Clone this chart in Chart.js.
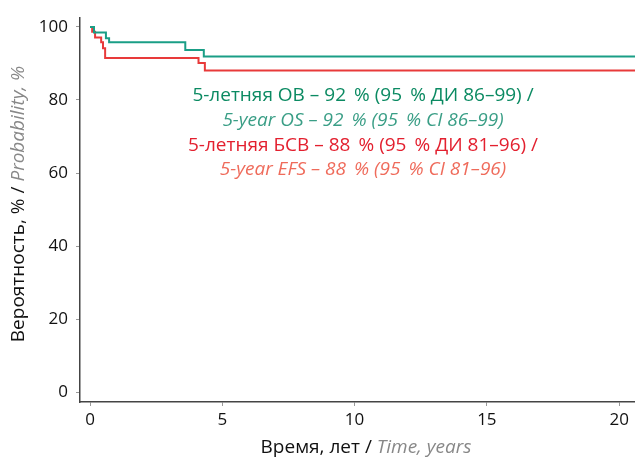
<!DOCTYPE html>
<html>
<head>
<meta charset="utf-8">
<script src="https://cdn.jsdelivr.net/npm/chart.js@4"></script>
<style>
  html,body{margin:0;padding:0;background:#fff;}
  #wrap{width:635px;height:460px;}
</style>
</head>
<body>
<div id="wrap"><canvas id="km"></canvas></div>
<script>
// время (годы) и вероятность (%) — ступени Каплана–Мейера
const osTime  = [0, 0.15, 0.6, 0.72, 3.6, 4.3, 20.6];
const osProb  = [100, 98.5, 96.9, 95.8, 93.7, 91.9, 91.9];
const efsTime = [0, 0.08, 0.19, 0.42, 0.49, 0.57, 4.1, 4.34, 20.6];
const efsProb = [100, 98.7, 97.1, 95.8, 94.2, 91.5, 90.1, 88.1, 88.1];
const xTicks = [0, 5, 10, 15, 20];
const yTicks = [0, 20, 40, 60, 80, 100];

const notes = [
  ['5-летняя ОВ – 92 \u2009% (95 \u2009% ДИ 86–99) /', '#0b8a62', ''],
  ['5-year OS – 92 \u2009% (95 \u2009% CI 86–99)', '#3a9e86', 'italic '],
  ['5-летняя БСВ – 88 \u2009% (95 \u2009% ДИ 81–96) /', '#e3202f', ''],
  ['5-year EFS – 88 \u2009% (95 \u2009% CI 81–96)', '#ef6b5b', 'italic ']
];

const FONT = '"Open Sans", "Noto Sans", sans-serif';

const textPlugin = {
  id: 'texts',
  afterDraw(chart) {
    const ctx = chart.ctx;
    ctx.save();
    ctx.textBaseline = 'middle';
    ctx.textAlign = 'center';
    notes.forEach((n, i) => {
      ctx.font = n[2] + '19px ' + FONT;
      ctx.fillStyle = n[1];
      ctx.fillText(n[0], 363, 96 + i * 24.6);
    });
    // x title
    const xa = '19px ' + FONT, xb = 'italic 19px ' + FONT;
    const p1 = 'Время, лет / ', p2 = 'Time, years';
    ctx.font = xa; const w1 = ctx.measureText(p1).width;
    ctx.font = xb; const w2 = ctx.measureText(p2).width;
    let x0 = 366 - (w1 + w2) / 2;
    ctx.textAlign = 'left';
    ctx.font = xa; ctx.fillStyle = '#111'; ctx.fillText(p1, x0, 448);
    ctx.font = xb; ctx.fillStyle = '#888'; ctx.fillText(p2, x0 + w1, 448);
    // y title
    const q1 = 'Вероятность, % / ', q2 = 'Probability, %';
    ctx.font = xa; const v1 = ctx.measureText(q1).width;
    ctx.font = xb; const v2 = ctx.measureText(q2).width;
    ctx.translate(19, 204);
    ctx.rotate(-Math.PI / 2);
    let y0 = -(v1 + v2) / 2;
    ctx.font = xa; ctx.fillStyle = '#111'; ctx.fillText(q1, y0, 0);
    ctx.font = xb; ctx.fillStyle = '#888'; ctx.fillText(q2, y0 + v1, 0);
    ctx.restore();
  }
};

new Chart(document.getElementById('km').getContext('2d'), {
  type: 'line',
  data: {
    datasets: [
      { label: 'OS', data: osTime.map((t, i) => ({x: t, y: osProb[i]})), borderColor: '#1a9e86', borderWidth: 2, stepped: true, pointRadius: 0, fill: false },
      { label: 'EFS', data: efsTime.map((t, i) => ({x: t, y: efsProb[i]})), borderColor: '#e83a3a', borderWidth: 2, stepped: true, pointRadius: 0, fill: false }
    ]
  },
  options: {
    responsive: true, maintainAspectRatio: false, animation: false,
    layout: { padding: { top: 12, right: 0, left: 0, bottom: 0 } },
    plugins: { legend: { display: false }, tooltip: { enabled: false } },
    scales: {
      x: {
        type: 'linear', min: -0.38, max: 20.6,
        afterBuildTicks: s => { s.ticks = xTicks.map(v => ({value: v})); },
        afterFit: s => { s.height = 58; },
        grid: { drawOnChartArea: false, tickLength: 4, color: '#999' },
        border: { color: '#444', width: 1.5 },
        ticks: { font: { family: FONT, size: 17 }, color: '#111', padding: 4, maxRotation: 0 }
      },
      y: {
        min: -2.7, max: 102.4,
        afterBuildTicks: s => { s.ticks = yTicks.map(v => ({value: v})); },
        afterFit: s => { s.width = 80; },
        grid: { drawOnChartArea: false, tickLength: 4, color: '#999' },
        border: { color: '#444', width: 1.5 },
        ticks: { font: { family: FONT, size: 17 }, color: '#111', padding: 8 }
      }
    }
  },
  plugins: [textPlugin]
});
</script>
</body>
</html>
